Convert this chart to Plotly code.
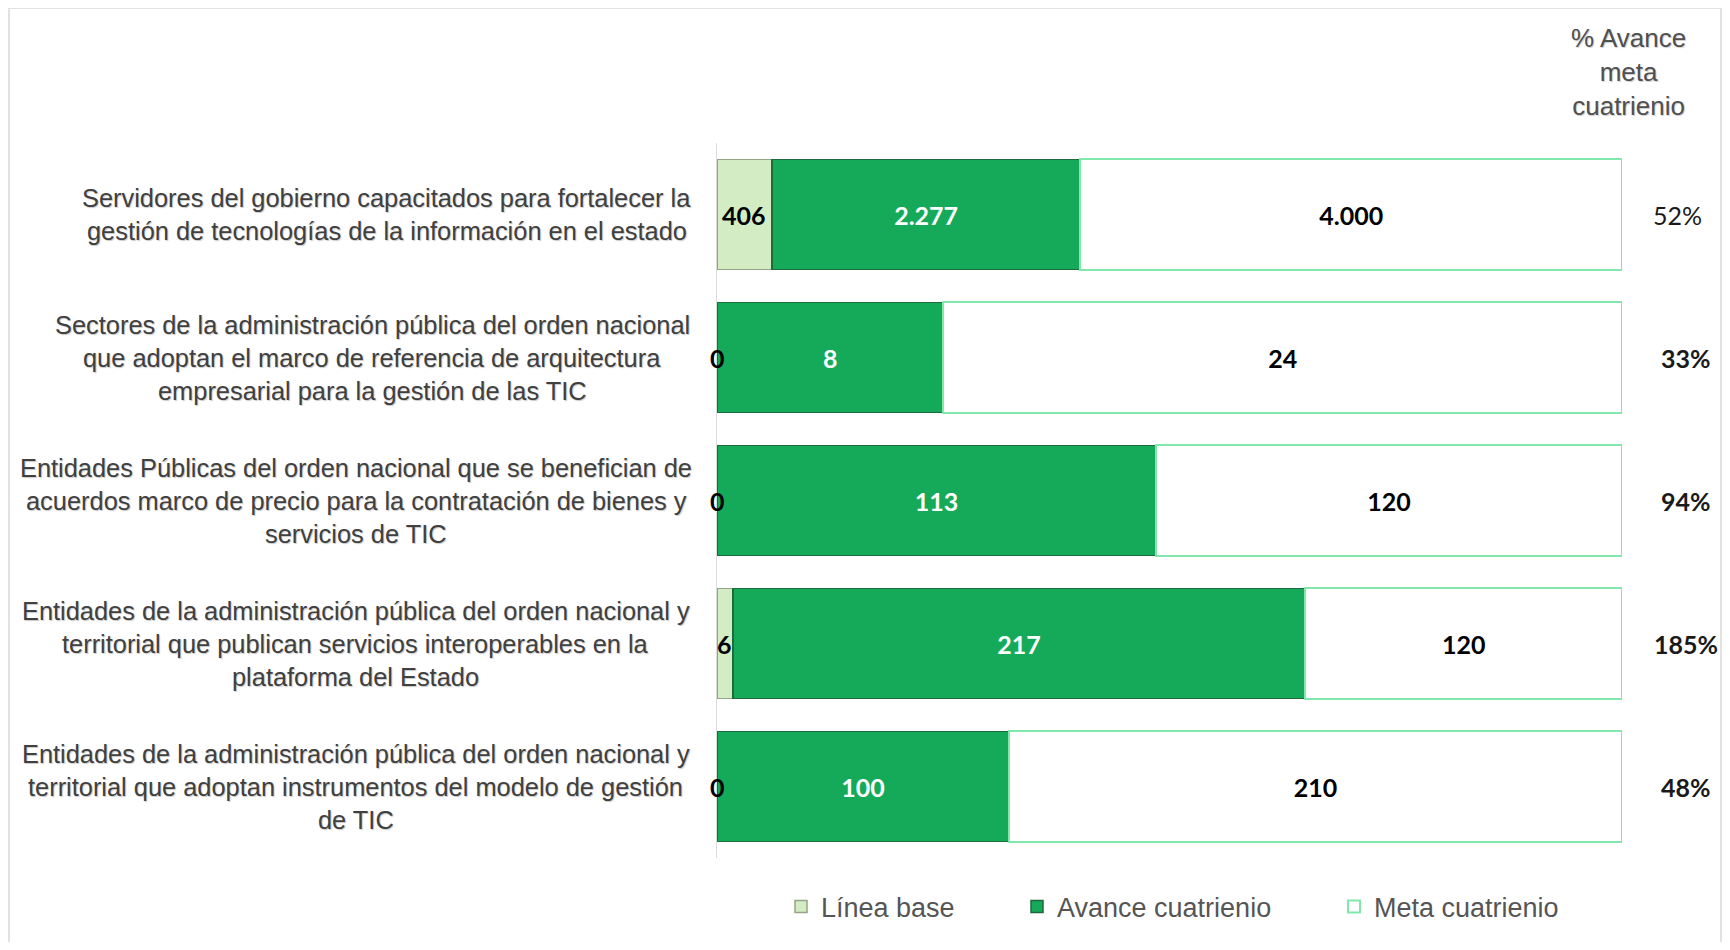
import plotly.graph_objects as go

# ---------------- data ----------------
categories = [
    "Servidores del gobierno capacitados para fortalecer la<br>gestión de tecnologías de la información en el estado",
    "Sectores de la administración pública del orden nacional<br>que adoptan el marco de referencia de arquitectura<br>empresarial para la gestión de las TIC",
    "Entidades Públicas del orden nacional que se benefician de<br>acuerdos marco de precio para la contratación de bienes y<br>servicios de TIC",
    "Entidades de la administración pública del orden nacional y<br>territorial que publican servicios interoperables en la<br>plataforma del Estado",
    "Entidades de la administración pública del orden nacional y<br>territorial que adoptan instrumentos del modelo de gestión<br>de TIC",
]
linea_base = [406, 0, 0, 6, 0]
avance = [2277, 8, 113, 217, 100]
meta = [4000, 24, 120, 120, 210]
pct_labels = ["52%", "33%", "94%", "185%", "48%"]
series_names = ["Línea base", "Avance cuatrienio", "Meta cuatrienio"]
header_text = "% Avance<br>meta<br>cuatrienio"

# ---------------- layout helpers ----------------
OFF = 8                      # page body margin
W, H = 1730 - 2 * OFF, 950 - 2 * OFF
L, R, T, B = 717 - OFF, 100, 143 - OFF, 84
PW = W - L - R
PH = H - T - B


def px_x(sx):
    """screen x -> paper x"""
    return (sx - OFF - L) / PW


def px_y(sy):
    """screen y -> paper y"""
    return (H - B - (sy - OFF)) / PH


def fmt(v):
    return f"{v:,}".replace(",", ".")


ARIAL = "Liberation Sans, Arial, sans-serif"
VALFONT = "Lato, Carlito, Calibri, sans-serif"

pct_weight = ["normal", "bold", "bold", "bold", "bold"]
pct_xpx = [1677, 1686, 1686, 1686, 1686]
label_center_px = [386.7, 372.4, 356.4, 355.8, 355.8]

fig = go.Figure()

fig.add_bar(
    y=categories, x=linea_base, orientation="h", name=series_names[0],
    marker=dict(color="#d3ecc4", line=dict(color="#93a487", width=1.5)),
    textposition="none", legend="legend", hoverinfo="skip",
)
fig.add_bar(
    y=categories, x=avance, orientation="h", name=series_names[1],
    marker=dict(color="#14aa5a", line=dict(color="#1d6a3c", width=1.5)),
    text=[fmt(v) for v in avance], textposition="inside",
    insidetextanchor="middle", textangle=0, constraintext="none",
    textfont=dict(family=VALFONT, size=25, color="white", weight="bold"),
    legend="legend2", hoverinfo="skip",
)
fig.add_bar(
    y=categories, x=meta, orientation="h", name=series_names[2],
    marker=dict(color="white", line=dict(color="#7fe8aa", width=2)),
    text=[fmt(v) for v in meta], textposition="inside",
    insidetextanchor="middle", textangle=0, constraintext="none",
    textfont=dict(family=VALFONT, size=25, color="black", weight="bold"),
    legend="legend3", hoverinfo="skip",
)

annotations = []
# baseline value labels
for cat, b, a, m in zip(categories, linea_base, avance, meta):
    tot = b + a + m
    annotations.append(dict(
        x=100 * b / tot / 2, y=cat, xref="x", yref="y", text=fmt(b),
        showarrow=False, xanchor="center", yanchor="middle",
        font=dict(family=VALFONT, size=25, color="black", weight="bold"),
    ))

# category labels, line by line
for cat, cx in zip(categories, label_center_px):
    lines = cat.split("<br>")
    n = len(lines)
    for i, ln in enumerate(lines):
        annotations.append(dict(
            x=px_x(cx), y=cat, xref="paper", yref="y", text=ln,
            showarrow=False, xanchor="center", yanchor="middle",
            yshift=-(i - (n - 1) / 2) * 33,
            font=dict(family=ARIAL, size=25.4, color="#404040",
                      shadow="1px 1px 1px rgba(0,0,0,0.22)"),
        ))

# percentage column
for cat, p, w, xp in zip(categories, pct_labels, pct_weight, pct_xpx):
    annotations.append(dict(
        x=px_x(xp), y=cat, xref="paper", yref="y", text=p,
        showarrow=False, xanchor="center", yanchor="middle",
        font=dict(family=VALFONT, size=25, color="#1a1a1a", weight=w),
    ))

# header
annotations.append(dict(
    x=px_x(1628), y=px_y(72), xref="paper", yref="paper", text=header_text,
    showarrow=False, xanchor="center", yanchor="middle", align="center",
    font=dict(family=ARIAL, size=26, color="#505050",
              shadow="1px 1px 1px rgba(0,0,0,0.2)"),
))

legend_font = dict(family=ARIAL, size=27, color="#555555")
legend_common = dict(xanchor="left", yanchor="middle", bgcolor="rgba(0,0,0,0)",
                     font=legend_font, y=px_y(907))

fig.update_layout(
    width=W, height=H,
    margin=dict(l=L, r=R, t=T, b=B, autoexpand=False),
    paper_bgcolor="white", plot_bgcolor="white",
    barmode="stack", barnorm="percent", bargap=0.23,
    showlegend=True,
    legend=dict(x=px_x(781), **legend_common),
    legend2=dict(x=px_x(1017), **legend_common),
    legend3=dict(x=px_x(1334), **legend_common),
    xaxis=dict(range=[0, 100], visible=False, fixedrange=True),
    yaxis=dict(autorange="reversed", showticklabels=False, ticks="",
               showgrid=False, zeroline=False, showline=True,
               linecolor="#dcdcdc", linewidth=1),
    annotations=annotations,
    shapes=[dict(type="rect", xref="paper", yref="paper",
                 x0=px_x(9), x1=px_x(1721), y0=px_y(960), y1=px_y(8),
                 line=dict(color="#e2e2e2", width=2), layer="below")],
)

fig.write_html("out.html")
